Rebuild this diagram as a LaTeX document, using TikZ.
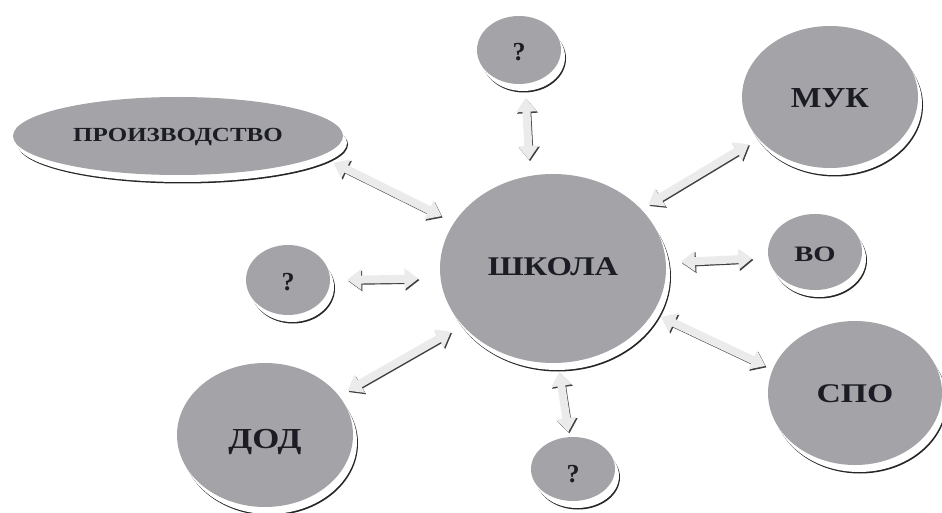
\documentclass[tikz,border=0pt]{standalone}
\usepackage{graphicx}
\usepackage{fontspec}
\setmainfont{Liberation Serif}
\usetikzlibrary{shapes.geometric,arrows.meta,shadows}
\definecolor{blobgray}{HTML}{A3A3A8}
\definecolor{arrowfill}{HTML}{EBEBEB}
\definecolor{inkdark}{HTML}{1C1C24}
\newcommand{\lbl}[4]{\fontsize{#1}{#1}\selectfont\raisebox{\dimexpr-.33em-#3\relax}[0pt][0pt]{\scalebox{#2}[1]{#4}}}
\tikzset{
  blob/.style={ellipse,inner sep=0pt,fill=blobgray,text=inkdark,font=\bfseries,
    general shadow={shadow xshift=5pt,shadow yshift=-8.5pt,fill=black!85},
    general shadow={shadow xshift=4pt,shadow yshift=-7pt,fill=white}},
  link/.style={line width=8pt,draw=arrowfill,
    {Triangle[length=14pt,width=20pt]}-{Triangle[length=14pt,width=20pt]},
    preaction={draw=black!75,line width=7.5pt,transform canvas={shift={(1.1pt,-1.4pt)}}}}
}
\begin{document}
\begin{tikzpicture}[x=1pt,y=1pt]
\useasboundingbox (0,0) rectangle (942,-513);
\node[blob,minimum width=226pt,minimum height=189pt] (school) at (553,-268.5) {\lbl{27}{1.21}{-1.5pt}{ШКОЛА}};
\node[blob,minimum width=84pt,minimum height=68pt] (qtop) at (519,-50) {\lbl{26}{1}{2pt}{?}};
\node[blob,minimum width=176pt,minimum height=142pt] (muk) at (830,-97) {\lbl{29}{1.12}{1pt}{МУК}};
\node[blob,minimum width=94pt,minimum height=76pt] (vo) at (815,-252) {\lbl{22}{1.3}{2pt}{ВО}};
\node[blob,minimum width=174pt,minimum height=144pt] (spo) at (855,-393) {\lbl{27}{1.25}{1pt}{СПО}};
\node[blob,minimum width=84pt,minimum height=64pt] (qbot) at (573,-469) {\lbl{26}{1}{5pt}{?}};
\node[blob,minimum width=176pt,minimum height=144pt] (dod) at (265,-435) {\lbl{29}{1.2}{4pt}{ДОД}};
\node[blob,minimum width=84pt,minimum height=70pt] (qleft) at (288,-280) {\lbl{26}{1}{2pt}{?}};
\node[blob,minimum width=330pt,minimum height=78pt] (prod) at (178,-136) {\lbl{20}{1.25}{-1pt}{ПРОИЗВОДСТВО}};
\draw[link,shorten <=14pt,shorten >=16pt] (qtop.-80) -- (school.104);
\draw[link,shorten <=15pt,shorten >=14pt] (prod.-8.3) -- (school.155.5);
\draw[link,shorten <=17pt,shorten >=22pt] (qleft.0) -- (school.185);
\draw[link,shorten <=10pt,shorten >=13pt] (dod.28.8) -- (school.212.6);
\draw[link,shorten <=5pt,shorten >=9pt] (qbot.97.7) -- (school.-87);
\draw[link,shorten <=8pt,shorten >=9pt] (spo.164.5) -- (school.-24.8);
\draw[link,shorten <=16pt,shorten >=15pt] (vo.187) -- (school.3);
\draw[link,shorten <=11pt,shorten >=8.5pt] (muk.210) -- (school.34.9);
\end{tikzpicture}
\end{document}
